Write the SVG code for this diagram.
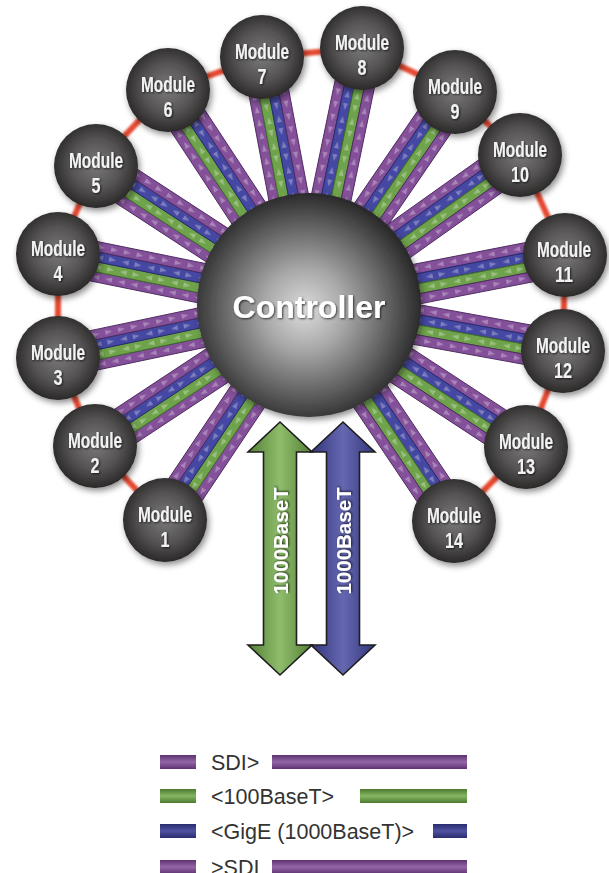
<svg xmlns="http://www.w3.org/2000/svg" xmlns:xlink="http://www.w3.org/1999/xlink" width="609" height="873" viewBox="0 0 609 873">
<defs>
<style>
.mb{fill:url(#gMod);filter:url(#fShadow)}
.ml{font-family:"Liberation Sans",Arial,sans-serif;font-weight:bold;font-size:22.5px;fill:#f2f2f2;text-anchor:middle;filter:url(#fTxt)}
.link{stroke:#e64a30;stroke-width:6;stroke-linecap:round;fill:none}
.sP{fill:#84509a;stroke:#4c2a5e;stroke-width:0.9}
.sB{fill:#4548a2;stroke:#252a6a;stroke-width:0.9}
.sG{fill:#6fa34b;stroke:#3d6a2a;stroke-width:0.9}
.lg{font-family:"Liberation Sans",Arial,sans-serif;font-size:21.5px;fill:#333}
.at{font-family:"Liberation Sans",Arial,sans-serif;font-weight:bold;font-size:20.5px;fill:#fff;text-anchor:middle;filter:url(#fTxt)}
.arr{stroke:#1e1e1e;stroke-width:1.6;stroke-linejoin:miter}
</style>
<radialGradient id="gMod" cx="50%" cy="48%" r="55%">
<stop offset="0" stop-color="#7c7a7a"/>
<stop offset="0.55" stop-color="#555353"/>
<stop offset="1" stop-color="#252323"/>
</radialGradient>
<radialGradient id="gCtl" cx="48%" cy="52%" r="52%">
<stop offset="0" stop-color="#dcdcdc"/>
<stop offset="0.35" stop-color="#a8a8a8"/>
<stop offset="0.75" stop-color="#5c5c5c"/>
<stop offset="1" stop-color="#2a2a2a"/>
</radialGradient>
<linearGradient id="gGreenA" x1="0" y1="0" x2="1" y2="0">
<stop offset="0" stop-color="#557f35"/>
<stop offset="0.5" stop-color="#8fbd6c"/>
<stop offset="1" stop-color="#557f35"/>
</linearGradient>
<linearGradient id="gBlueA" x1="0" y1="0" x2="1" y2="0">
<stop offset="0" stop-color="#34367c"/>
<stop offset="0.5" stop-color="#6567b0"/>
<stop offset="1" stop-color="#34367c"/>
</linearGradient>
<linearGradient id="gLP" x1="0" y1="0" x2="0" y2="1">
<stop offset="0" stop-color="#5e3270"/><stop offset="0.5" stop-color="#9466a8"/><stop offset="1" stop-color="#5e3270"/>
</linearGradient>
<linearGradient id="gLG" x1="0" y1="0" x2="0" y2="1">
<stop offset="0" stop-color="#4d7a30"/><stop offset="0.5" stop-color="#86b662"/><stop offset="1" stop-color="#4d7a30"/>
</linearGradient>
<linearGradient id="gLB" x1="0" y1="0" x2="0" y2="1">
<stop offset="0" stop-color="#2a2c70"/><stop offset="0.5" stop-color="#4f52a0"/><stop offset="1" stop-color="#2a2c70"/>
</linearGradient>
<filter id="fShadow" x="-30%" y="-30%" width="160%" height="160%">
<feGaussianBlur in="SourceAlpha" stdDeviation="3"/>
<feOffset dx="1.5" dy="2.5" result="b"/>
<feFlood flood-color="#000" flood-opacity="0.45"/>
<feComposite in2="b" operator="in"/>
<feMerge><feMergeNode/><feMergeNode in="SourceGraphic"/></feMerge>
</filter>
<filter id="fGlow" x="-30%" y="-30%" width="160%" height="160%">
<feGaussianBlur in="SourceGraphic" stdDeviation="1.2"/>
</filter>
<filter id="fTxt" x="-20%" y="-30%" width="140%" height="160%">
<feGaussianBlur in="SourceAlpha" stdDeviation="1.2"/>
<feOffset dx="1" dy="1" result="b"/>
<feFlood flood-color="#000" flood-opacity="0.7"/>
<feComposite in2="b" operator="in"/>
<feMerge><feMergeNode/><feMergeNode in="SourceGraphic"/></feMerge>
</filter>
<pattern id="pOut" patternUnits="userSpaceOnUse" width="13" height="10">
<path d="M3,2.6 L10,5 L3,7.4Z" fill="#fff" fill-opacity="0.3"/>
</pattern>
<pattern id="pIn" patternUnits="userSpaceOnUse" width="13" height="10">
<path d="M10,2.6 L3,5 L10,7.4Z" fill="#fff" fill-opacity="0.3"/>
</pattern>
<pattern id="pBoth" patternUnits="userSpaceOnUse" width="26" height="10">
<path d="M3,2.6 L10,5 L3,7.4Z M23,2.6 L16,5 L23,7.4Z" fill="#fff" fill-opacity="0.3"/>
</pattern>
<g id="bundleL">
<rect x="95" y="-20" width="140" height="10" class="sP"/><rect x="95" y="-20" width="140" height="10" fill="url(#pOut)"/>
<rect x="95" y="-10" width="140" height="10" class="sG"/><rect x="95" y="-10" width="140" height="10" fill="url(#pBoth)"/>
<rect x="95" y="0" width="140" height="10" class="sB"/><rect x="95" y="0" width="140" height="10" fill="url(#pBoth)"/>
<rect x="95" y="10" width="140" height="10" class="sP"/><rect x="95" y="10" width="140" height="10" fill="url(#pIn)"/>
</g>
<g id="bundleR">
<rect x="95" y="-20" width="140" height="10" class="sP"/><rect x="95" y="-20" width="140" height="10" fill="url(#pIn)"/>
<rect x="95" y="-10" width="140" height="10" class="sB"/><rect x="95" y="-10" width="140" height="10" fill="url(#pBoth)"/>
<rect x="95" y="0" width="140" height="10" class="sG"/><rect x="95" y="0" width="140" height="10" fill="url(#pBoth)"/>
<rect x="95" y="10" width="140" height="10" class="sP"/><rect x="95" y="10" width="140" height="10" fill="url(#pOut)"/>
</g>
</defs>
<rect width="609" height="873" fill="#fff"/>

<g id="connectors">
<g id="ring" filter="url(#fGlow)">
<line class="link" x1="165" y1="520" x2="95" y2="446"/>
<line class="link" x1="95" y1="446" x2="58" y2="358"/>
<line class="link" x1="58" y1="358" x2="58" y2="254"/>
<line class="link" x1="58" y1="254" x2="96" y2="166"/>
<line class="link" x1="96" y1="166" x2="168" y2="90"/>
<line class="link" x1="168" y1="90" x2="262" y2="57"/>
<line class="link" x1="262" y1="57" x2="362" y2="48"/>
<line class="link" x1="362" y1="48" x2="455" y2="92"/>
<line class="link" x1="455" y1="92" x2="520" y2="155"/>
<line class="link" x1="520" y1="155" x2="565" y2="255"/>
<line class="link" x1="565" y1="255" x2="563" y2="351"/>
<line class="link" x1="563" y1="351" x2="526" y2="447"/>
<line class="link" x1="526" y1="447" x2="454" y2="521"/>
</g>
<g id="buses">
<use href="#bundleL" transform="translate(309,305) rotate(123.8)"/>
<use href="#bundleL" transform="translate(309,305) rotate(146.6)"/>
<use href="#bundleL" transform="translate(309,305) rotate(168.1)"/>
<use href="#bundleL" transform="translate(309,305) rotate(191.5)"/>
<use href="#bundleL" transform="translate(309,305) rotate(213.1)"/>
<use href="#bundleL" transform="translate(309,305) rotate(236.7)"/>
<use href="#bundleL" transform="translate(309,305) rotate(259.3)"/>
<use href="#bundleR" transform="translate(309,305) rotate(281.7)"/>
<use href="#bundleR" transform="translate(309,305) rotate(304.4)"/>
<use href="#bundleR" transform="translate(309,305) rotate(324.6)"/>
<use href="#bundleR" transform="translate(309,305) rotate(349)"/>
<use href="#bundleR" transform="translate(309,305) rotate(10.3)"/>
<use href="#bundleR" transform="translate(309,305) rotate(33.2)"/>
<use href="#bundleR" transform="translate(309,305) rotate(56.1)"/>
</g>
</g>

<g id="controller">
<circle cx="309" cy="305" r="112" fill="url(#gCtl)" filter="url(#fShadow)"/>
<text x="309" y="318" font-family="Liberation Sans, Arial, sans-serif" font-weight="bold" font-size="32" fill="#fff" text-anchor="middle" filter="url(#fTxt)">Controller</text>
</g>

<g id="module-1"><circle class="mb" cx="165" cy="520" r="42"/><text class="ml" x="165" y="522" textLength="54" lengthAdjust="spacingAndGlyphs">Module</text><text class="ml" x="165" y="547" textLength="9" lengthAdjust="spacingAndGlyphs">1</text></g>
<g id="module-2"><circle class="mb" cx="95" cy="446" r="42"/><text class="ml" x="95" y="448" textLength="54" lengthAdjust="spacingAndGlyphs">Module</text><text class="ml" x="95" y="473" textLength="9" lengthAdjust="spacingAndGlyphs">2</text></g>
<g id="module-3"><circle class="mb" cx="58" cy="358" r="42"/><text class="ml" x="58" y="360" textLength="54" lengthAdjust="spacingAndGlyphs">Module</text><text class="ml" x="58" y="385" textLength="9" lengthAdjust="spacingAndGlyphs">3</text></g>
<g id="module-4"><circle class="mb" cx="58" cy="254" r="42"/><text class="ml" x="58" y="256" textLength="54" lengthAdjust="spacingAndGlyphs">Module</text><text class="ml" x="58" y="281" textLength="9" lengthAdjust="spacingAndGlyphs">4</text></g>
<g id="module-5"><circle class="mb" cx="96" cy="166" r="42"/><text class="ml" x="96" y="168" textLength="54" lengthAdjust="spacingAndGlyphs">Module</text><text class="ml" x="96" y="193" textLength="9" lengthAdjust="spacingAndGlyphs">5</text></g>
<g id="module-6"><circle class="mb" cx="168" cy="90" r="42"/><text class="ml" x="168" y="92" textLength="54" lengthAdjust="spacingAndGlyphs">Module</text><text class="ml" x="168" y="117" textLength="9" lengthAdjust="spacingAndGlyphs">6</text></g>
<g id="module-7"><circle class="mb" cx="262" cy="57" r="42"/><text class="ml" x="262" y="59" textLength="54" lengthAdjust="spacingAndGlyphs">Module</text><text class="ml" x="262" y="84" textLength="9" lengthAdjust="spacingAndGlyphs">7</text></g>
<g id="module-8"><circle class="mb" cx="362" cy="48" r="42"/><text class="ml" x="362" y="50" textLength="54" lengthAdjust="spacingAndGlyphs">Module</text><text class="ml" x="362" y="75" textLength="9" lengthAdjust="spacingAndGlyphs">8</text></g>
<g id="module-9"><circle class="mb" cx="455" cy="92" r="42"/><text class="ml" x="455" y="94" textLength="54" lengthAdjust="spacingAndGlyphs">Module</text><text class="ml" x="455" y="119" textLength="9" lengthAdjust="spacingAndGlyphs">9</text></g>
<g id="module-10"><circle class="mb" cx="520" cy="155" r="42"/><text class="ml" x="520" y="157" textLength="54" lengthAdjust="spacingAndGlyphs">Module</text><text class="ml" x="520" y="182" textLength="18" lengthAdjust="spacingAndGlyphs">10</text></g>
<g id="module-11"><circle class="mb" cx="565" cy="255" r="42"/><text class="ml" x="564" y="257" textLength="54" lengthAdjust="spacingAndGlyphs">Module</text><text class="ml" x="564" y="282" textLength="18" lengthAdjust="spacingAndGlyphs">11</text></g>
<g id="module-12"><circle class="mb" cx="563" cy="351" r="42"/><text class="ml" x="563" y="353" textLength="54" lengthAdjust="spacingAndGlyphs">Module</text><text class="ml" x="563" y="378" textLength="18" lengthAdjust="spacingAndGlyphs">12</text></g>
<g id="module-13"><circle class="mb" cx="526" cy="447" r="42"/><text class="ml" x="526" y="449" textLength="54" lengthAdjust="spacingAndGlyphs">Module</text><text class="ml" x="526" y="474" textLength="18" lengthAdjust="spacingAndGlyphs">13</text></g>
<g id="module-14"><circle class="mb" cx="454" cy="521" r="42"/><text class="ml" x="454" y="523" textLength="54" lengthAdjust="spacingAndGlyphs">Module</text><text class="ml" x="454" y="548" textLength="18" lengthAdjust="spacingAndGlyphs">14</text></g>

<g id="uplinks">
<g id="uplink-green">
<path class="arr" fill="url(#gGreenA)" d="M280,422 L312,452 L296.5,452 L296.5,645 L312,645 L280,675 L248,645 L263.5,645 L263.5,452 L248,452 Z"/>
<text class="at" transform="translate(288,541) rotate(-90)">1000BaseT</text>
</g>
<g id="uplink-blue">
<path class="arr" fill="url(#gBlueA)" d="M343,422 L375,452 L359.5,452 L359.5,645 L375,645 L343,675 L311,645 L326.5,645 L326.5,452 L311,452 Z"/>
<text class="at" transform="translate(351,541) rotate(-90)">1000BaseT</text>
</g>
</g>

<g id="legend">
<rect x="160" y="755" width="36" height="14" fill="url(#gLP)"/>
<text class="lg" x="211" y="769.5">SDI&gt;</text>
<rect x="272" y="755" width="195" height="14" fill="url(#gLP)"/>
<rect x="160" y="789" width="36" height="14" fill="url(#gLG)"/>
<text class="lg" x="211" y="803.5">&lt;100BaseT&gt;</text>
<rect x="360" y="789" width="107" height="14" fill="url(#gLG)"/>
<rect x="160" y="824" width="36" height="14" fill="url(#gLB)"/>
<text class="lg" x="211" y="838.5">&lt;GigE (1000BaseT)&gt;</text>
<rect x="433" y="824" width="34" height="14" fill="url(#gLB)"/>
<rect x="160" y="860" width="36" height="14" fill="url(#gLP)"/>
<text class="lg" x="211" y="874.5">&gt;SDI</text>
<rect x="272" y="860" width="195" height="14" fill="url(#gLP)"/>
</g>
</svg>
